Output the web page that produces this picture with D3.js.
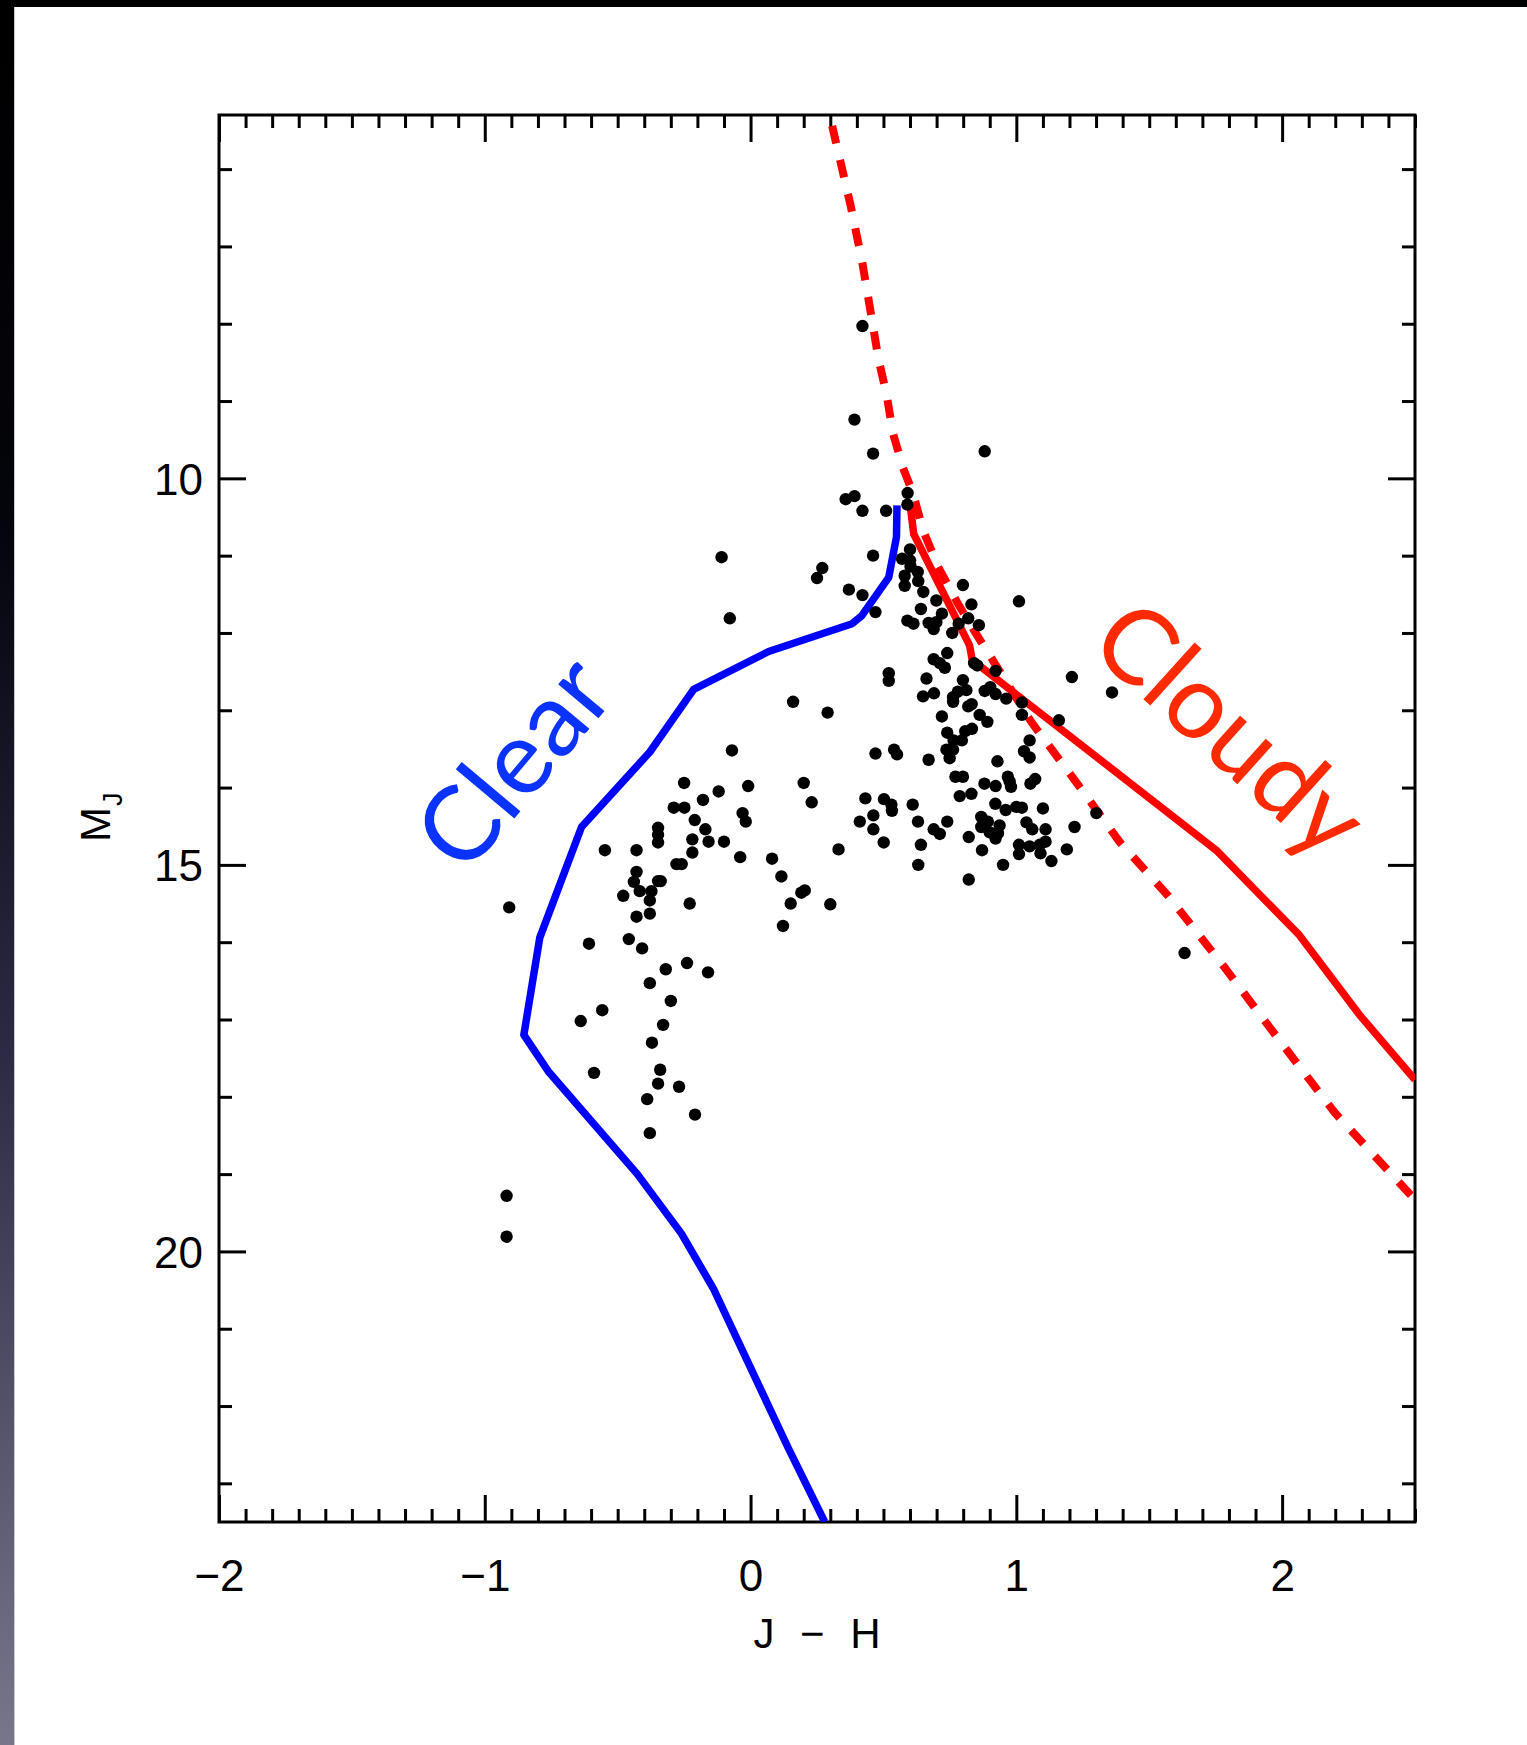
<!DOCTYPE html>
<html>
<head>
<meta charset="utf-8">
<script src="https://cdn.jsdelivr.net/npm/d3@7"></script>
<style>
  html, body { margin: 0; padding: 0; background: #ffffff; }
  svg { display: block; }
</style>
</head>
<body>
<svg id="chart" width="1527" height="1745"></svg>
<script>
// ---- Data ----
const xTicksMajor = [-2, -1, 0, 1, 2];
const yTicksMajor = [10, 15, 20];
const xLabel = "J − H";
const yLabelMain = "M";
const yLabelSub = "J";

// observed objects: J-H colour and absolute J magnitude
const jh = [0.421,0.391,0.461,0.881,0.358,0.391,0.421,0.510,0.591,0.590,
0.461,0.270,0.250,0.370,0.421,0.470,0.600,0.570,0.600,0.602,
0.629,0.580,0.631,0.580,0.650,0.799,0.699,0.831,1.010,0.641,
0.720,0.590,0.613,0.670,0.699,0.689,0.783,0.819,0.859,0.759,
0.740,0.689,0.712,0.731,0.841,0.853,0.922,0.520,0.520,0.662,
0.799,1.209,1.360,0.160,0.290,0.649,0.690,0.762,0.780,0.812,
0.762,0.881,0.902,0.922,0.962,1.021,0.819,0.832,0.720,0.862,
0.891,1.021,1.160,0.740,0.808,0.833,0.764,0.795,1.050,0.470,
0.540,0.551,0.670,0.737,0.762,0.749,0.929,1.029,1.050,0.771,
0.799,0.968,0.975,0.980,0.880,0.922,1.053,1.071,0.200,0.230,
0.432,0.502,0.530,0.532,0.787,0.831,0.610,0.921,0.960,1.000,
1.021,1.100,1.301,0.411,0.462,0.462,0.630,0.740,0.689,0.712,
0.868,0.893,0.868,0.900,0.922,0.937,0.931,1.038,1.060,1.110,
1.219,0.501,0.641,0.821,0.331,1.010,1.050,1.088,1.110,1.010,
1.091,1.190,0.871,1.132,0.950,0.631,0.821,0.116,0.191,0.204,
0.151,0.300,0.122,
-0.109,-0.078,-0.070,-0.250,-0.120,-0.009,-0.179,-0.289,-0.249,-0.210,
-0.030,-0.018,-0.348,-0.348,-0.348,-0.170,-0.219,-0.158,-0.100,-0.548,
-0.429,-0.219,-0.039,0.081,-0.279,-0.259,-0.429,-0.439,-0.348,-0.338,
-0.479,-0.417,-0.373,-0.379,-0.229,-0.429,-0.379,
-0.908,-0.608,-0.458,-0.408,-0.319,-0.239,-0.160,-0.379,-0.300,-0.558,
-0.639,-0.329,-0.371,-0.589,-0.340,-0.348,-0.269,-0.389,-0.209,-0.379,
-0.918,-0.918,1.633];

const mj = [8.03,9.24,9.68,9.65,10.27,10.23,10.42,10.42,10.19,10.34,
11.00,11.16,11.29,11.44,11.51,11.73,10.92,11.04,11.06,11.14,
11.21,11.26,11.33,11.39,11.47,11.38,11.58,11.63,11.59,11.69,
11.75,11.84,11.88,11.87,11.86,11.95,11.88,11.81,11.90,12.00,
12.26,12.34,12.39,12.45,12.39,12.42,12.49,12.52,12.62,12.59,
12.61,12.57,12.77,12.89,13.03,12.82,12.78,12.83,12.76,12.74,
12.89,12.75,12.70,12.79,12.85,12.90,12.95,12.92,13.08,13.06,
13.15,13.06,13.13,13.29,13.27,13.24,13.39,13.39,13.39,13.56,
13.51,13.57,13.64,13.51,13.51,13.62,13.66,13.53,13.61,13.86,
13.86,13.86,13.92,13.99,13.95,13.98,13.95,13.89,13.94,14.19,
14.14,14.15,14.22,14.30,14.11,14.08,14.22,14.21,14.29,14.25,
14.26,14.27,14.33,14.44,14.36,14.54,14.44,14.44,14.54,14.60,
14.38,14.44,14.51,14.58,14.66,14.49,14.59,14.45,14.54,14.54,
14.51,14.71,14.74,14.64,14.80,14.74,14.76,14.74,14.70,14.86,
14.85,14.80,14.81,14.95,15.00,15.00,15.19,15.15,15.36,15.33,
15.50,15.51,15.79,
11.02,11.81,13.52,13.94,14.05,13.98,14.16,14.26,14.26,14.42,
14.33,14.44,14.52,14.61,14.71,14.54,14.67,14.70,14.70,14.81,
14.81,14.84,14.90,14.92,14.99,14.99,15.09,15.22,15.21,15.21,
15.40,15.34,15.34,15.46,15.50,15.67,15.63,
15.55,16.02,15.96,16.08,16.35,16.27,16.39,16.53,16.76,16.88,
17.02,17.07,17.30,17.69,17.65,17.83,17.87,18.03,18.23,18.47,
19.28,19.81,16.14];

// model sequences
const clearJH = [0.551, 0.549, 0.520, 0.418, 0.382, 0.068, -0.214, -0.379, -0.636, -0.793, -0.853, -0.759, -0.426, -0.260, -0.140, 0.140, 0.279];
const clearMJ = [10.35, 10.76, 11.28, 11.78, 11.88, 12.24, 12.73, 13.54, 14.51, 15.94, 17.20, 17.68, 19.00, 19.77, 20.48, 22.53, 23.50];

const cloudyJH = [0.601, 0.614, 0.824, 0.834, 1.752, 2.065, 2.291, 2.50];
const cloudyMJ = [10.36, 10.72, 12.16, 12.35, 14.81, 15.91, 16.94, 17.78];

const cloudyDashJH = [0.307,0.377,0.420,0.448,0.482,0.511,0.536,0.574,0.611,0.649,0.705,0.780,0.843,0.918,1.056,1.238,1.388,1.571,1.780,1.990,2.199,2.500];
const cloudyDashMJ = [5.44,6.48,7.20,7.77,8.47,8.90,9.42,9.87,10.19,10.67,11.14,11.62,11.98,12.39,13.15,13.99,14.70,15.40,16.31,17.27,18.21,19.33];

const labelClear = "Clear";
const labelCloudy = "Cloudy";

// ---- Layout ----
const W = 1527, H = 1745;
const X0 = 219, X1 = 1415, Y0 = 115, Y1 = 1522;
const FONT = "'Liberation Sans', Arial, 'DejaVu Sans', sans-serif";
const FONT_LABEL = "Lato, 'Open Sans', 'DejaVu Sans', sans-serif";

const svg = d3.select("#chart");

// background frame (slide border)
const defs = svg.append("defs");
const grad = defs.append("linearGradient").attr("id", "leftGrad")
  .attr("x1", 0).attr("y1", 0).attr("x2", 0).attr("y2", 1);
grad.append("stop").attr("offset", "0%").attr("stop-color", "#000000");
grad.append("stop").attr("offset", "30%").attr("stop-color", "#04040c");
grad.append("stop").attr("offset", "60%").attr("stop-color", "#2a2a44");
grad.append("stop").attr("offset", "100%").attr("stop-color", "#77778c");

svg.append("rect").attr("x", 0).attr("y", 0).attr("width", W).attr("height", H).attr("fill", "#ffffff");
svg.append("rect").attr("x", 0).attr("y", 0).attr("width", W).attr("height", 7).attr("fill", "#000000");
svg.append("rect").attr("x", 0).attr("y", 0).attr("width", 14).attr("height", H).attr("fill", "url(#leftGrad)");
svg.append("rect").attr("x", 14).attr("y", 7).attr("width", 1).attr("height", H - 7).attr("fill", "#c8c8d0");

const x = d3.scaleLinear().domain([-2, 2.5]).range([X0, X1]);
const y = d3.scaleLinear().domain([5.3, 23.5]).range([Y0, Y1]);

defs.append("clipPath").attr("id", "plotClip")
  .append("rect").attr("x", X0).attr("y", Y0).attr("width", X1 - X0).attr("height", Y1 - Y0);

const xMinor = d3.range(-20, 26).map(d => d / 10).filter(d => !xTicksMajor.includes(d));
const yMinor = d3.range(6, 24).filter(d => !yTicksMajor.includes(d));

function styleAxis(g) {
  g.select(".domain").remove();
  g.selectAll(".tick line").attr("stroke", "#000").attr("stroke-width", 3);
  g.selectAll(".tick text").attr("fill", "#000").attr("font-family", FONT).attr("font-size", 44);
}

// bottom
svg.append("g").attr("transform", `translate(0,${Y1})`)
  .call(d3.axisBottom(x).tickValues(xMinor).tickSize(-13).tickFormat(""))
  .call(styleAxis);
svg.append("g").attr("transform", `translate(0,${Y1})`)
  .call(d3.axisBottom(x).tickValues(xTicksMajor).tickSize(-27).tickPadding(38).tickFormat(d3.format("d")))
  .call(styleAxis);
// top
svg.append("g").attr("transform", `translate(0,${Y0})`)
  .call(d3.axisTop(x).tickValues(xMinor).tickSize(-13).tickFormat(""))
  .call(styleAxis);
svg.append("g").attr("transform", `translate(0,${Y0})`)
  .call(d3.axisTop(x).tickValues(xTicksMajor).tickSize(-27).tickFormat(""))
  .call(styleAxis);
// left
svg.append("g").attr("transform", `translate(${X0},0)`)
  .call(d3.axisLeft(y).tickValues(yMinor).tickSize(-13).tickFormat(""))
  .call(styleAxis);
svg.append("g").attr("transform", `translate(${X0},0)`)
  .call(d3.axisLeft(y).tickValues(yTicksMajor).tickSize(-27).tickPadding(16).tickFormat(d3.format("d")))
  .call(styleAxis)
  .selectAll(".tick text").attr("dy", "0.36em");
// right
svg.append("g").attr("transform", `translate(${X1},0)`)
  .call(d3.axisRight(y).tickValues(yMinor).tickSize(-13).tickFormat(""))
  .call(styleAxis);
svg.append("g").attr("transform", `translate(${X1},0)`)
  .call(d3.axisRight(y).tickValues(yTicksMajor).tickSize(-27).tickFormat(""))
  .call(styleAxis);

// frame
svg.append("rect").attr("x", X0).attr("y", Y0).attr("width", X1 - X0).attr("height", Y1 - Y0)
  .attr("fill", "none").attr("stroke", "#000").attr("stroke-width", 3);

// axis titles
svg.append("text").attr("x", (X0 + X1) / 2).attr("y", 1648)
  .attr("text-anchor", "middle").attr("font-family", FONT).attr("font-size", 42)
  .attr("word-spacing", 14).attr("fill", "#000")
  .text(xLabel);

const yl = svg.append("text").attr("transform", "translate(110,842) rotate(-90)")
  .attr("font-family", FONT).attr("fill", "#000");
yl.append("tspan").attr("font-size", 42).text(yLabelMain);
yl.append("tspan").attr("font-size", 27).attr("dy", 12).attr("dx", 1).text(yLabelSub);

// model lines
const plot = svg.append("g").attr("clip-path", "url(#plotClip)");
const line = d3.line().x(d => x(d[0])).y(d => y(d[1]));

plot.append("path").datum(clearJH.map((v, i) => [v, clearMJ[i]]))
  .attr("d", line).attr("fill", "none").attr("stroke", "#0000ff")
  .attr("stroke-width", 7.5).attr("stroke-linejoin", "round");
plot.append("path").datum(cloudyJH.map((v, i) => [v, cloudyMJ[i]]))
  .attr("d", line).attr("fill", "none").attr("stroke", "#ff0000")
  .attr("stroke-width", 7.5).attr("stroke-linejoin", "round");
plot.append("path").datum(cloudyDashJH.map((v, i) => [v, cloudyDashMJ[i]]))
  .attr("d", line).attr("fill", "none").attr("stroke", "#ff0000")
  .attr("stroke-width", 8).attr("stroke-dasharray", "18,17");

// data points
const n = Math.min(jh.length, mj.length);
plot.append("g").selectAll("circle").data(d3.range(n)).join("circle")
  .attr("cx", i => x(jh[i])).attr("cy", i => y(mj[i])).attr("r", 6.2).attr("fill", "#000");

// labels
svg.append("text")
  .attr("transform", `translate(${x(-0.787)},${y(13.98)}) rotate(-50)`)
  .attr("text-anchor", "middle").attr("font-family", FONT_LABEL).attr("font-size", 104)
  .attr("fill", "#0a33ff").text(labelClear);
svg.append("text")
  .attr("transform", `translate(${x(1.714)},${y(13.59)}) rotate(42)`)
  .attr("text-anchor", "middle").attr("font-family", FONT_LABEL).attr("font-size", 104)
  .attr("fill", "#ff2a00").text(labelCloudy);
</script>
</body>
</html>
